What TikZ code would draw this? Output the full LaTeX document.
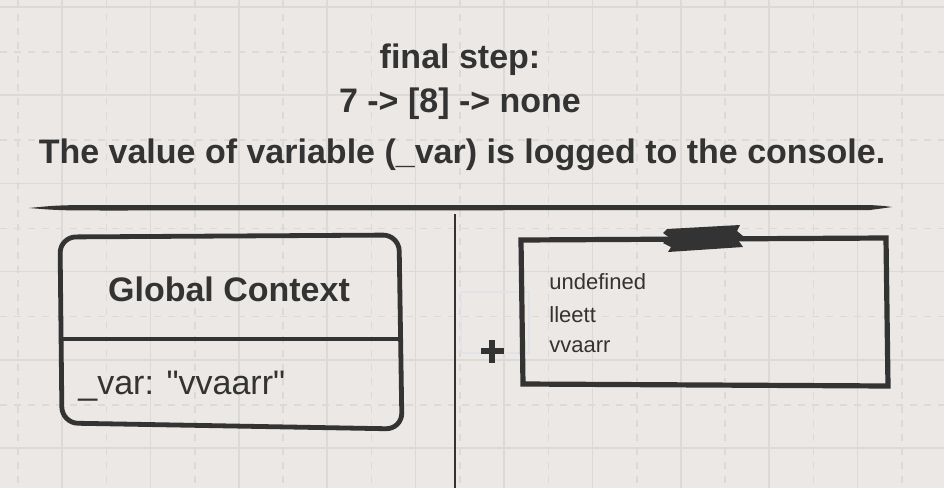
\documentclass[tikz,border=0pt]{standalone}
\usepackage{fontspec}
\setmainfont{Liberation Sans}
\usepackage{tikz}
\usetikzlibrary{positioning}
\usepackage{xcolor}
\definecolor{paper}{HTML}{EBE8E5}
\definecolor{gridgray}{HTML}{DCDAD7}
\definecolor{ink}{HTML}{333333}
\definecolor{ghost}{HTML}{E2E3E6}

\tikzset{
    gridsolid/.style={gridgray, line width=.8pt},
    griddash/.style={gridgray, line width=.8pt, dash pattern=on 3.5pt off 3.5pt},
    bigbold/.style={text=ink, inner sep=0pt, font=\fontsize{17}{20}\selectfont\bfseries, anchor=base},
    bigtext/.style={text=ink, inner sep=0pt, font=\fontsize{17}{20}\selectfont, anchor=base west},
    smalltext/.style={text=ink, inner sep=0pt, font=\fontsize{11}{13}\selectfont, anchor=base west},
    sketchbox/.style={draw=ink, line width=2.4pt, line join=round}
}

\begin{document}
\begin{tikzpicture}[x=0.5pt, y=-0.5pt]
        \useasboundingbox (0,0) rectangle (944,488);
        \fill[paper] (0,0) rectangle (944,488);
        % grid
        \foreach \k in {0,...,10}
        {
            \draw[griddash] ({18+88.4*\k},0) -- ({18+88.4*\k},488);
            \draw[gridsolid] ({62+88.4*\k},0) -- ({62+88.4*\k},488);
        }
        \foreach \k in {0,...,5}
        {
            \draw[gridsolid] (0,{7+88.2*\k}) -- (944,{7+88.2*\k});
            \draw[griddash] (0,{52+88.2*\k}) -- (944,{52+88.2*\k});
        }

        % heading
        \node[bigbold] (stepname) at (460,68) {final step:};
        \node[bigbold] (chain) at (460,112) {7 -> [8] -> none};
        \node[bigbold] (logline) at (462,163) {The value of variable (\_var) is logged to the console.};

        % brush stroke and divider
        \fill[ink] (29,208) .. controls (60,205) .. (120,205) -- (870,205)
            .. controls (885,206) .. (892,207) .. controls (885,208) .. (870,210)
            -- (120,210.5) .. controls (60,210.5) .. (29,208) -- cycle;
        \draw[ink, line width=.8pt] (455,214) -- (455,488);

        % global context
        \draw[sketchbox, rounded corners=8] (60,237) -- (399,235) -- (402,429) -- (62,423) -- cycle;
        \draw[ink, line width=1.6pt] (61,339) -- (398,339);
        \node[bigbold] (globalctx) at (229,301) {Global Context};
        \node[bigtext] (varline) at (78,394) {\_var: \textquotedbl vvaarr\textquotedbl};

        % plus
        \draw[ghost, line width=1.2pt] (461,292) rectangle (529,353);
        \draw[ink, line width=3pt] (481,351) -- (504,351) (492,340) -- (492,363);

        % memory box
        \draw[sketchbox, line width=2.6pt, line join=miter] (521,240) -- (886,238) -- (888,386) -- (523,384) -- cycle;
        \fill[ink] (667,229) -- (740,225) -- (737,231) -- (743,236) -- (738,240) -- (743,247)
            -- (668,252) -- (671,247) -- (663,243) -- (670,238) -- (663,233) -- cycle;
        \node[smalltext] (undef) at (549,289) {undefined};
        \node[smalltext] (letword) at (549,322) {lleett};
        \node[smalltext] (varword) at (549,352) {vvaarr};
    \end{tikzpicture}
\end{document}
